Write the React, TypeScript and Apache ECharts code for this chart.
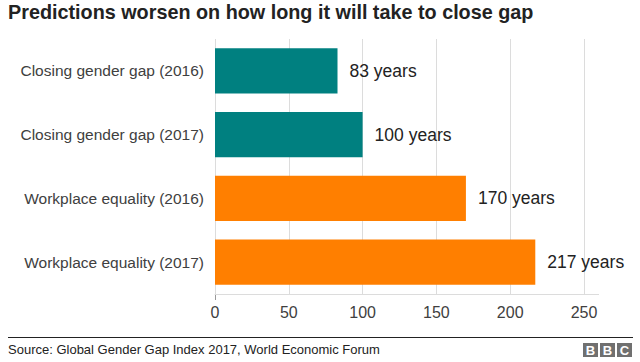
import React, { useEffect, useRef } from "react";
import * as echarts from "echarts";

const categories = [
  "Closing gender gap (2016)",
  "Closing gender gap (2017)",
  "Workplace equality (2016)",
  "Workplace equality (2017)",
];
const values = [83, 100, 170, 217];
const barColors = ["#008080", "#008080", "#ff7f00", "#ff7f00"];
const xTicks = [0, 50, 100, 150, 200, 250];

const FONT = "'Liberation Sans', Arial, Helvetica, sans-serif";

export default function App() {
  const ref = useRef<HTMLDivElement>(null);
  useEffect(() => {
    if (!ref.current) return;
    const chart = echarts.init(ref.current, undefined, { renderer: "svg" });
    const gridLeft = 215;
    const gridRight = 56;
    const gridTop = 39;
    const gridBottom = 68;
    chart.setOption({
      animation: false,
      textStyle: { fontFamily: FONT },
      title: {
        text: "Predictions worsen on how long it will take to close gap",
        left: 3,
        top: -3,
        textStyle: { fontSize: 19.8, fontWeight: "bold", color: "#222222", fontFamily: FONT },
      },
      grid: { left: gridLeft, right: gridRight, top: gridTop, bottom: gridBottom, containLabel: false },
      xAxis: {
        type: "value",
        min: xTicks[0],
        max: xTicks[xTicks.length - 1],
        interval: 50,
        axisLine: { show: true, lineStyle: { color: "#dcdcdc", width: 1 } },
        axisTick: { show: false },
        splitLine: { show: true, lineStyle: { color: "#dcdcdc", width: 1 } },
        axisLabel: { color: "#404040", fontSize: 16, margin: 10, fontFamily: FONT },
      },
      yAxis: {
        type: "category",
        data: categories,
        inverse: true,
        axisLine: { show: false },
        axisTick: { show: false },
        axisLabel: { color: "#404040", fontSize: 15.5, margin: 11, fontFamily: FONT },
      },
      series: [
        {
          type: "bar",
          data: values.map((v, i) => ({ value: v, itemStyle: { color: barColors[i] } })),
          barCategoryGap: "29%",
          label: {
            show: true,
            position: "right",
            distance: 12,
            formatter: (p: any) => `${p.value} years`,
            fontSize: 17.5,
            color: "#222222",
            fontFamily: FONT,
          },
        },
      ],
      graphic: [
        { type: "line", shape: { x1: 584, y1: 294.5, x2: 599, y2: 294.5 }, style: { stroke: "#dcdcdc", lineWidth: 1 } },
        { type: "line", shape: { x1: 215.5, y1: 294, x2: 215.5, y2: 300 }, style: { stroke: "#999999", lineWidth: 1 } },
        { type: "line", shape: { x1: 8, y1: 337.5, x2: 633, y2: 337.5 }, style: { stroke: "#222222", lineWidth: 1 } },
        {
          type: "text",
          left: 8,
          top: 343,
          style: {
            text: "Source: Global Gender Gap Index 2017, World Economic Forum",
            fontSize: 13,
            fill: "#222222",
            fontFamily: FONT,
          },
        },
        ...["B", "B", "C"].flatMap((ch, i) => [
          { type: "rect", shape: { x: 583 + i * 17, y: 343, width: 15, height: 14 }, style: { fill: "#707070" } },
          {
            type: "text",
            x: 583 + i * 17 + 7.5,
            y: 350.5,
            style: {
              text: ch,
              fontSize: 13,
              fontWeight: "bold",
              fill: "#ffffff",
              align: "center",
              verticalAlign: "middle",
              fontFamily: FONT,
            },
          },
        ]),
      ],
    });
    return () => chart.dispose();
  }, []);
  return <div ref={ref} style={{ width: 640, height: 362, position: "absolute", left: 0, top: 0 }} />;
}
